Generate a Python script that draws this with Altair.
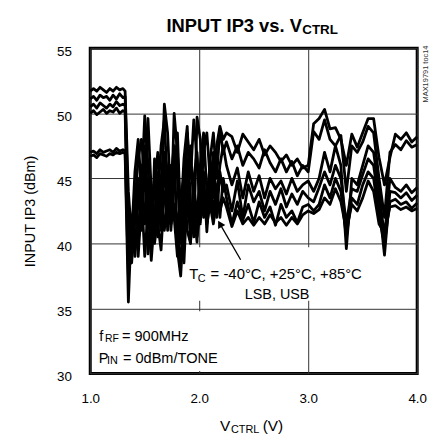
import altair as alt
import pandas as pd

# ---------------- data ----------------
V_FLAT = [1.00, 1.03, 1.06, 1.09, 1.12, 1.15, 1.18, 1.21, 1.24, 1.27, 1.30, 1.32]
V_OSC = [1.35, 1.38, 1.41, 1.44, 1.47, 1.50, 1.53, 1.56, 1.59, 1.62, 1.65, 1.68, 1.71, 1.74, 1.77,
         1.80, 1.83, 1.86, 1.89, 1.92, 1.95, 1.98, 2.01, 2.04, 2.07, 2.10, 2.13, 2.16, 2.19, 2.22]
V_SETTLE = [2.25, 2.30, 2.35, 2.40, 2.45, 2.50, 2.55, 2.60, 2.65, 2.70, 2.75, 2.80, 2.85, 2.90, 2.95,
            3.00, 3.05, 3.10, 3.15, 3.20, 3.25, 3.30, 3.35, 3.40, 3.45, 3.50, 3.55, 3.60, 3.65, 3.70,
            3.75, 3.80, 3.85, 3.90, 3.95, 4.00]
VCTRL = V_FLAT + V_OSC + V_SETTLE

IP3_A = ([51.7, 51.9, 51.7, 52.0, 51.8, 51.6, 51.9, 51.7, 52.0, 51.8, 51.9, 51.7]
         + [44.0, 40.5, 45.5, 48.0, 44.0, 49.8, 46.0, 41.0, 44.5, 47.0, 43.0, 50.7, 48.5, 43.0, 47.5,
            45.0, 40.0, 44.5, 48.5, 45.0, 49.5, 46.5, 43.0, 47.0, 48.5, 45.0, 43.5, 47.5, 49.0, 48.0]
         + [48.5, 48.2, 47.0, 48.4, 47.8, 47.2, 48.0, 46.8, 47.5, 47.0, 46.3, 46.8, 46.0, 46.5, 45.8,
            46.0, 49.2, 49.6, 50.3, 48.8, 48.9, 48.0, 46.0, 48.4, 47.4, 48.5, 49.6, 49.6, 46.6, 44.5,
            46.6, 48.4, 48.0, 48.5, 47.8, 48.2])
IP3_B = ([51.1, 51.3, 51.0, 51.4, 51.2, 51.3, 51.0, 51.4, 51.1, 51.5, 51.2, 51.3]
         + [42.0, 39.0, 43.0, 46.5, 48.0, 45.0, 49.6, 44.0, 40.5, 43.5, 47.5, 49.5, 44.0, 41.5, 50.0,
            47.0, 42.0, 46.5, 49.0, 43.0, 40.5, 49.7, 48.0, 44.0, 42.0, 46.5, 48.5, 45.0, 48.8, 47.0]
         + [47.8, 46.5, 47.5, 46.0, 47.0, 46.5, 45.8, 47.2, 46.2, 45.5, 46.5, 45.5, 46.3, 45.2, 46.0,
            45.5, 48.6, 48.0, 49.5, 48.0, 47.5, 48.3, 44.0, 47.5, 47.0, 47.8, 49.0, 48.5, 45.0, 42.0,
            47.0, 47.6, 47.2, 47.9, 47.4, 47.6])
IP3_C = ([50.5, 50.7, 50.4, 50.8, 50.6, 50.4, 50.7, 50.5, 50.9, 50.6, 50.7, 50.6]
         + [40.0, 38.5, 42.0, 45.0, 41.0, 47.5, 43.0, 38.7, 42.0, 45.5, 41.0, 47.0, 45.5, 41.0, 44.5,
            48.5, 41.5, 38.5, 44.0, 47.5, 42.5, 40.1, 46.0, 48.5, 44.0, 42.5, 46.0, 43.5, 46.0, 47.5]
         + [46.0, 44.5, 45.8, 43.5, 45.5, 44.0, 45.2, 43.5, 45.0, 44.2, 44.8, 43.8, 45.0, 44.0, 44.5,
            44.8, 44.0, 45.0, 47.0, 45.5, 47.5, 46.0, 39.6, 45.0, 44.5, 46.0, 47.5, 47.0, 44.0, 40.5,
            45.0, 44.3, 44.0, 44.5, 43.9, 44.3])
IP3_D = ([50.0, 50.2, 49.9, 50.1, 50.3, 50.0, 50.2, 50.1, 50.4, 50.0, 50.2, 50.1]
         + [38.5, 41.5, 39.0, 43.5, 46.0, 41.5, 44.0, 39.5, 46.5, 40.5, 44.5, 46.0, 41.0, 45.0, 47.5,
            39.5, 37.5, 42.0, 46.5, 40.0, 45.0, 47.0, 41.5, 45.5, 40.9, 44.5, 47.0, 42.0, 45.5, 44.0]
         + [44.5, 42.5, 44.8, 42.0, 44.5, 43.2, 44.0, 42.5, 44.0, 43.0, 44.2, 42.8, 43.8, 43.0, 44.0,
            43.5, 43.2, 44.3, 45.5, 44.5, 46.0, 45.0, 41.5, 44.2, 44.0, 45.3, 46.5, 46.0, 43.0, 39.1,
            44.0, 43.9, 43.5, 43.9, 43.3, 43.7])
IP3_E = ([47.0, 47.1, 46.9, 47.2, 47.0, 47.1, 47.2, 47.0, 47.3, 47.1, 47.2, 47.1]
         + [37.5, 40.0, 44.0, 39.0, 43.0, 45.5, 39.2, 42.0, 45.0, 41.5, 39.5, 44.0, 42.5, 46.0, 42.0,
            39.0, 43.5, 45.0, 41.0, 40.0, 44.5, 42.0, 45.5, 42.0, 43.5, 46.0, 42.0, 44.5, 42.0, 45.0]
         + [43.5, 41.5, 43.2, 41.8, 43.0, 41.6, 43.2, 42.0, 42.8, 41.4, 43.0, 42.0, 42.5, 41.6, 42.8,
            43.0, 42.5, 43.0, 44.5, 43.5, 45.0, 44.0, 40.5, 43.5, 43.0, 44.5, 45.5, 45.0, 42.0, 40.0,
            43.2, 43.4, 43.0, 43.2, 42.7, 43.1])
IP3_F = ([46.7, 46.8, 46.6, 46.9, 46.8, 46.7, 46.9, 46.8, 47.0, 46.9, 47.0, 46.9]
         + [35.5, 42.0, 39.5, 41.0, 44.0, 39.0, 42.5, 44.5, 40.0, 42.0, 44.0, 41.0, 43.5, 41.5, 43.0,
            42.0, 38.5, 40.5, 43.0, 41.0, 43.5, 40.5, 42.5, 44.0, 41.5, 43.0, 41.5, 43.5, 42.5, 43.5]
         + [42.8, 41.3, 42.5, 41.5, 42.0, 41.4, 42.0, 41.5, 42.2, 41.6, 42.0, 41.4, 42.0, 41.5, 42.2,
            42.5, 42.3, 42.6, 43.5, 43.0, 44.2, 43.2, 41.0, 43.0, 42.5, 43.5, 44.8, 44.0, 41.5, 40.8,
            42.8, 42.9, 42.6, 42.8, 42.5, 42.7])

SERIES = {
    "-40°C LSB": IP3_A, "-40°C USB": IP3_B, "+25°C LSB": IP3_C,
    "+25°C USB": IP3_D, "+85°C LSB": IP3_E, "+85°C USB": IP3_F,
}
X_TICKS = [1.0, 2.0, 3.0, 4.0]
Y_TICKS = [30, 35, 40, 45, 50, 55]

rows = []
for name, vals in SERIES.items():
    for v, ip3 in zip(VCTRL, vals):
        rows.append({"series": name, "vctrl": v, "ip3": ip3})
df = pd.DataFrame(rows)

FONT = "Liberation Sans, Arial, sans-serif"
W, H = 330, 328.4

xs = alt.Scale(domain=[1, 4], nice=False, zero=False)
ys = alt.Scale(domain=[30, 55], nice=False, zero=False)

lines = alt.Chart(df).mark_line(color="black", strokeWidth=2.8, strokeJoin="round").encode(
    x=alt.X("vctrl:Q", scale=xs, axis=alt.Axis(values=X_TICKS, format=".1f", title=None,
                                               labelPadding=18, labelFontSize=13.5,
                                               labelFlush=False)),
    y=alt.Y("ip3:Q", scale=ys, axis=alt.Axis(values=Y_TICKS, title="INPUT IP3 (dBm)",
                                             labelPadding=19, labelFontSize=13.5,
                                             labelFlush=False, labelOffset=3,
                                             titleX=-60, titleY=H / 2, titleAngle=270,
                                             titleAlign="center", titleBaseline="middle")),
    detail="series:N",
)

# white boxes behind the annotations
boxes = pd.DataFrame({"x": [1.04, 1.90], "x2": [2.26, 3.50],
                      "y": [30.2, 35.6], "y2": [34.8, 39.7]})
box_layer = alt.Chart(boxes).mark_rect(color="white").encode(
    x=alt.X("x:Q", scale=xs), x2="x2:Q", y=alt.Y("y:Q", scale=ys), y2="y2:Q")

# arrow
arrow = pd.DataFrame({"x": [2.38], "y": [38.75], "x2": [2.19], "y2": [41.5]})
arrow_line = alt.Chart(arrow).mark_rule(color="black", strokeWidth=1.3).encode(
    x=alt.X("x:Q", scale=xs), y=alt.Y("y:Q", scale=ys), x2="x2:Q", y2="y2:Q")
arrow_head = alt.Chart(arrow).mark_point(shape="triangle-up", filled=True, color="black",
                                         size=70, angle=330, opacity=1).encode(
    x=alt.X("x2:Q", scale=xs), y=alt.Y("y2:Q", scale=ys))

# text pieces (text, px x, px y, size, bold)
TEXTS = [
    ("INPUT IP3 vs. V", 77, -16.6, 18.5, "bold"),
    ("CTRL", 214, -14.2, 13.5, "bold"),
    ("V", 131, 386.4, 15.5, "normal"),
    ("CTRL", 142, 388.4, 11, "normal"),
    ("(V)", 174, 386.4, 15.5, "normal"),
    ("T", 100, 233.4, 15, "normal"),
    ("C", 108.5, 236.4, 11, "normal"),
    ("= -40°C, +25°C, +85°C", 121.5, 233.4, 15, "normal"),
    ("LSB, USB", 156, 253.4, 14.5, "normal"),
    ("f", 9, 295.1, 14.7, "normal"),
    ("RF", 15, 296.6, 10.5, "normal"),
    ("= 900MHz", 32, 295.1, 14.7, "normal"),
    ("P", 8.5, 317.4, 14.7, "normal"),
    ("IN", 17, 319, 11, "normal"),
    ("= 0dBm/TONE", 33, 317.4, 14.7, "normal"),
]
text_layers = []
for txt, px, py, size, weight in TEXTS:
    text_layers.append(
        alt.Chart(pd.DataFrame({"t": [txt]})).mark_text(
            align="left", baseline="alphabetic", fontSize=size, fontWeight=weight,
            font=FONT, color="black").encode(
            x=alt.value(px), y=alt.value(py), text="t:N"))

mark_id = alt.Chart(pd.DataFrame({"t": ["MAX19791 toc14"]})).mark_text(
    angle=270, align="center", baseline="middle", fontSize=7.5, font=FONT, color="#333").encode(
    x=alt.value(339), y=alt.value(26), text="t:N")

chart = alt.layer(box_layer, lines, arrow_line, arrow_head, *text_layers, mark_id).properties(
    width=W, height=H,
    autosize=alt.AutoSizeParams(type="none"),
    padding={"left": 83, "top": 38.6, "right": 20, "bottom": 64},
).configure_view(stroke="black", strokeWidth=3).configure_axis(
    grid=True, gridColor="#333", gridWidth=1, ticks=False, tickSize=0, domain=False,
    labelFont=FONT, titleFont=FONT, labelColor="black", titleColor="black",
    titleFontSize=14.5, titleFontWeight="normal",
)

chart.save("out.html", embed_options={"renderer": "svg", "actions": False})
